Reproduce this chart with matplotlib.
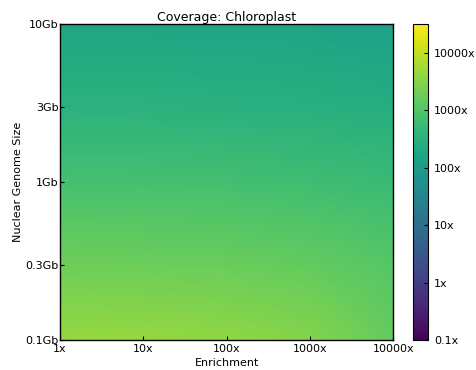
import matplotlib
matplotlib.use("Agg")
import matplotlib.pyplot as plt
import numpy as np
from matplotlib.colors import LogNorm

# enrichment factor (x) and nuclear genome size in Gb (y)
enrichment = [1, 10, 100, 1000, 10000]
genome_gb = [0.1, 0.3, 1, 3, 10]

# estimated chloroplast coverage, rows follow genome_gb, columns follow enrichment
coverage = [
    [4300, 4200, 3800, 3000, 1600],
    [1900, 1850, 1750, 1500, 1100],
    [760, 750, 720, 650, 540],
    [330, 325, 310, 290, 255],
    [175, 172, 165, 155, 140],
]

x_labels = ["1x", "10x", "100x", "1000x", "10000x"]
y_labels = ["0.1Gb", "0.3Gb", "1Gb", "3Gb", "10Gb"]
cbar_ticks = [0.1, 1, 10, 100, 1000, 10000]
cbar_labels = ["0.1x", "1x", "10x", "100x", "1000x", "10000x"]

plt.rcParams["font.size"] = 8

fig = plt.figure(figsize=(4.76, 3.70), dpi=100)
ax = fig.add_axes([0.126, 0.081, 0.70, 0.854])
cax = fig.add_axes([0.868, 0.081, 0.032, 0.854])

norm = LogNorm(vmin=0.1, vmax=10 ** 4.5)
mesh = ax.pcolormesh(enrichment, genome_gb, np.array(coverage), shading="gouraud",
                     cmap="viridis", norm=norm)
ax.set_xscale("log")
ax.set_yscale("log")
ax.set_xlim(enrichment[0], enrichment[-1])
ax.set_ylim(genome_gb[0], genome_gb[-1])
ax.set_xticks(enrichment)
ax.set_xticklabels(x_labels)
ax.set_yticks(genome_gb)
ax.set_yticklabels(y_labels)
ax.minorticks_off()
ax.tick_params(direction="in", length=3)
ax.tick_params(axis="x", pad=3)
ax.tick_params(axis="y", pad=1)
ax.set_xlabel("Enrichment", labelpad=3)
ax.set_ylabel("Nuclear Genome Size", labelpad=2)
ax.set_title("Coverage: Chloroplast", fontsize=9, pad=2)
for s in ax.spines.values():
    s.set_linewidth(1.0)

cb = fig.colorbar(mesh, cax=cax)
cb.set_ticks(cbar_ticks)
cb.set_ticklabels(cbar_labels)
cb.minorticks_off()
cax.tick_params(direction="in", length=3, pad=4)

fig.savefig("out.png", dpi=100)
